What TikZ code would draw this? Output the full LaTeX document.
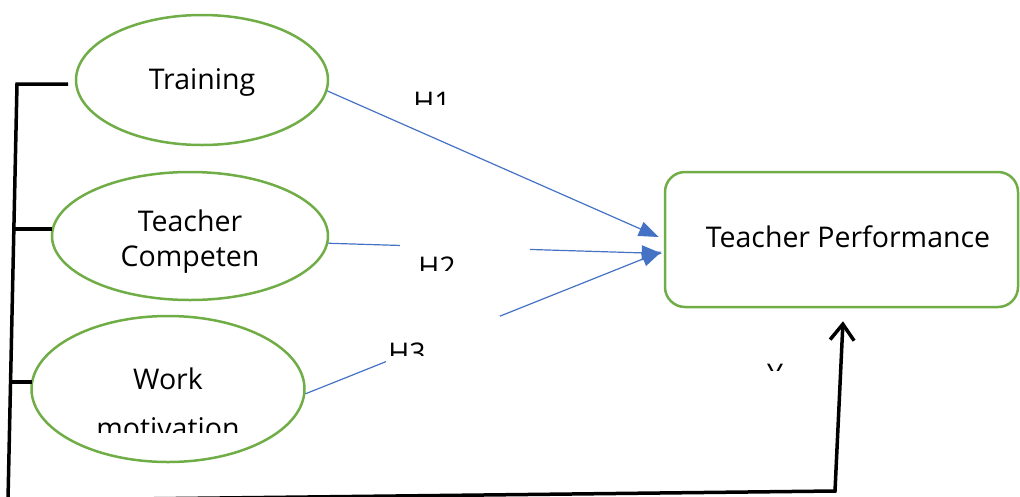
\documentclass[tikz,border=0pt]{standalone}
\usepackage{fontspec}
\setmainfont{Open Sans}
\usetikzlibrary{arrows.meta,shapes.geometric,calc}
\definecolor{lgreen}{HTML}{70AD47}
\definecolor{lblue}{HTML}{4472C4}
\begin{document}
\begin{tikzpicture}[x=1pt,y=-1pt,
  ell/.style={draw=lgreen,line width=2.5pt,ellipse,inner sep=0pt},
  txt/.style={font=\fontsize{28.5}{33}\selectfont,anchor=base,inner sep=0pt},
  blu/.style={draw=lblue,line width=1.2pt,-{Triangle[length=20pt,width=15pt]}},
  blk/.style={draw=black,line width=3.5pt},
]
\useasboundingbox (0,0) rectangle (1020,496);
\clip (0,0) rectangle (1020,496);
% shapes
\node[ell,minimum width=252pt,minimum height=130pt] (train) at (202,80) {};
\node[ell,minimum width=276pt,minimum height=128pt] (comp) at (190,236) {};
\node[ell,minimum width=273pt,minimum height=146pt] (work) at (168,389) {};
\node[draw=lgreen,line width=2.5pt,rounded corners=20pt,minimum width=353pt,minimum height=135pt,inner sep=0pt] (perf) at (841.5,239.5) {};
% texts
\node[txt] (t1) at (202,89) {Training};
\node[txt] (t2) at (190,231) {Teacher};
\node[txt] (t3) at (190,266) {Competen};
\node[txt] (t4) at (168,389) {Work};
\begin{scope}
\clip (0,0) rectangle (1020,432);
\node[txt] (t5) at (168,438) {motivation};
\end{scope}
\node[txt] (t6) at (848,247) {Teacher Performance};
% blue arrows
\draw[blu] (train.-5) -- ($(perf.west)+(-5,-2.5)$);
\draw[blu] (comp.-3) -- ($(perf.west)+(-2,14)$);
\draw[blu] (work.-2) -- ($(perf.west)+(-2,12)$);
% black lines
\coordinate (c1) at (68,84);
\coordinate (c0) at (17,84);
\coordinate (c2) at (8,500);
\coordinate (k1a) at (13.9,229);
\coordinate (k1b) at (52,229);
\coordinate (k2a) at (10.6,382);
\coordinate (k2b) at (32,382);
\coordinate (c3) at (8,500.4);
\coordinate (c4) at (835,491);
\draw[blk] (c1) -- (c0) -- (c2);
\draw[blk] (k1a) -- (k1b);
\draw[blk] (k2a) -- (k2b);
\draw[blk,-{Straight Barb[length=16pt,width=24pt]}] (c3) -- (c4) -- ($(perf.south)+(1.5,13)$);
% labels (clipped boxes)
\begin{scope}
\clip (400,80) rectangle (470,104);
\node[txt] (h1) at (432,112) {H1};
\end{scope}
\fill[white] (400,243) rectangle (530,271);
\begin{scope}
\clip (400,243) rectangle (530,270);
\node[txt] (h2) at (437,277) {H2};
\end{scope}
\fill[white] (386,316) rectangle (500,366);
\begin{scope}
\clip (386,316) rectangle (500,355);
\node[txt] (h3) at (407,363) {H3};
\end{scope}
\begin{scope}
\clip (740,355) rectangle (810,370);
\node[txt] (y) at (775,384) {Y};
\end{scope}
\end{tikzpicture}
\end{document}
